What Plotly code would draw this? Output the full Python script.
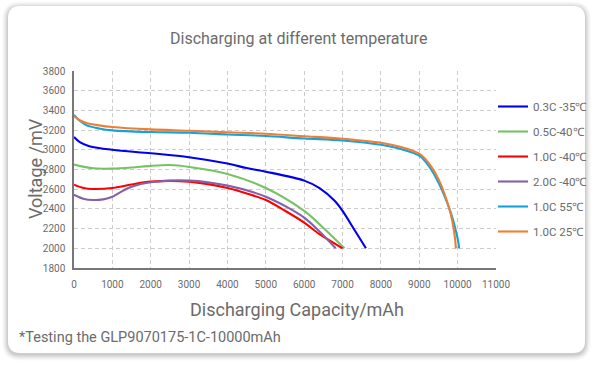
import plotly.graph_objects as go

# ---------------- data ----------------
series_names = ["0.3C -35℃", "0.5C-40℃", "1.0C -40℃", "2.0C -40℃", "1.0C 55℃", "1.0C 25℃"]
series_colors = ["#0000ee", "#78c266", "#ff0000", "#8560a8", "#14a2dc", "#ee7e33"]

cap_03c_m35 = [0, 150, 400, 1000, 2000, 3000, 4000, 4500, 5000, 6000, 6400, 6800, 7000, 7300, 7610]
volt_03c_m35 = [3130, 3078, 3037, 3000, 2965, 2925, 2860, 2815, 2778, 2687, 2612, 2480, 2380, 2194, 2000]

cap_05c_m40 = [0, 500, 1000, 1500, 2000, 2500, 3000, 4000, 5000, 6000, 6400, 7050]
volt_05c_m40 = [2850, 2812, 2809, 2820, 2837, 2845, 2826, 2755, 2612, 2380, 2245, 2000]

cap_10c_m40 = [0, 250, 500, 1000, 1500, 2000, 3000, 4000, 4500, 5000, 5500, 6000, 6400, 7000]
volt_10c_m40 = [2646, 2612, 2602, 2612, 2648, 2677, 2677, 2612, 2557, 2490, 2381, 2261, 2143, 2000]

cap_20c_m40 = [0, 240, 500, 760, 1000, 1280, 1500, 2000, 3000, 4000, 5000, 6000, 6400, 6820]
volt_20c_m40 = [2544, 2504, 2490, 2497, 2523, 2585, 2625, 2670, 2687, 2636, 2523, 2312, 2170, 2000]

cap_10c_55 = [0, 150, 330, 650, 1000, 2000, 3000, 4000, 5000, 6000, 7000, 8000, 8500, 9000, 9260, 9520, 9740, 9880, 9970, 10015, 10040]
volt_10c_55 = [3355, 3295, 3248, 3217, 3197, 3180, 3173, 3156, 3140, 3115, 3095, 3051, 3010, 2940, 2830, 2653, 2450, 2290, 2150, 2070, 2000]

cap_10c_25 = [0, 150, 330, 650, 1000, 2000, 3000, 4000, 5000, 6000, 7000, 8000, 8500, 9000, 9260, 9520, 9690, 9820, 9900, 9935, 9955]
volt_10c_25 = [3340, 3300, 3271, 3248, 3231, 3207, 3194, 3178, 3163, 3138, 3112, 3071, 3030, 2960, 2857, 2687, 2516, 2347, 2190, 2090, 2000]

x_ticks = list(range(0, 11001, 1000))
y_ticks = list(range(1800, 3801, 200))

caps = [cap_03c_m35, cap_05c_m40, cap_10c_m40, cap_20c_m40, cap_10c_55, cap_10c_25]
volts = [volt_03c_m35, volt_05c_m40, volt_10c_m40, volt_20c_m40, volt_10c_55, volt_10c_25]

# ---------------- layout geometry ----------------
FW, FH = 596, 366
L, R, T, B = 74, 496, 71, 268
PW, PH = R - L, B - T
FONT = "Roboto, 'Open Sans', sans-serif"
TXT = "#6b6b6b"


def px(X):
    return (X - L) / PW


def py(Y):
    return (B - Y) / PH


def rounded_rect(x0, y0, x1, y1, r):
    pts = [
        ("M", [(x0 + r, y0)]),
        ("L", [(x1 - r, y0)]),
        ("Q", [(x1, y0), (x1, y0 + r)]),
        ("L", [(x1, y1 - r)]),
        ("Q", [(x1, y1), (x1 - r, y1)]),
        ("L", [(x0 + r, y1)]),
        ("Q", [(x0, y1), (x0, y1 - r)]),
        ("L", [(x0, y0 + r)]),
        ("Q", [(x0, y0), (x0 + r, y0)]),
    ]
    s = ""
    for cmd, ps in pts:
        s += cmd + " " + " ".join(f"{px(a):.5f},{py(b):.5f}" for a, b in ps) + " "
    return s + "Z"


fig = go.Figure()

for name, color, xs, ys in zip(series_names, series_colors, caps, volts):
    fig.add_trace(go.Scatter(
        x=xs, y=ys, mode="lines", name=name,
        line=dict(color=color, width=2.1, shape="spline", smoothing=0.9),
        legendgroup=name,
    ))

shapes = []
# soft shadow
for e, a in [(6, 0.02), (5, 0.025), (4, 0.03), (3, 0.035), (2, 0.045), (1, 0.06)]:
    shapes.append(dict(type="path", xref="paper", yref="paper",
                       path=rounded_rect(8 - e, 6 - e + 1.5, 585 + e, 353 + e + 1.5, 12 + e),
                       fillcolor=f"rgba(0,0,0,{a})", line=dict(width=0), layer="below"))
shapes.append(dict(type="path", xref="paper", yref="paper",
                   path=rounded_rect(8, 6, 585, 353, 12),
                   fillcolor="white", line=dict(width=0), layer="below"))

annotations = [
    dict(text="Discharging at different temperature", x=px(298), y=py(38), xref="paper", yref="paper",
         showarrow=False, xanchor="center", yanchor="middle", font=dict(family=FONT, size=16, color=TXT)),
    dict(text="Discharging Capacity/mAh", x=px(297), y=py(309), xref="paper", yref="paper",
         showarrow=False, xanchor="center", yanchor="middle", font=dict(family=FONT, size=18, color=TXT)),
    dict(text="Voltage /mV", x=px(35), y=py(169), xref="paper", yref="paper", textangle=-90,
         showarrow=False, xanchor="center", yanchor="middle", font=dict(family=FONT, size=18, color=TXT)),
    dict(text="*Testing the GLP9070175-1C-10000mAh", x=px(17), y=py(337), xref="paper", yref="paper",
         showarrow=False, xanchor="left", yanchor="middle", font=dict(family=FONT, size=14.5, color=TXT)),
]

fig.update_layout(
    width=FW, height=FH,
    margin=dict(l=L, r=FW - R, t=T, b=FH - B, pad=0, autoexpand=False),
    paper_bgcolor="white", plot_bgcolor="rgba(0,0,0,0)",
    font=dict(family=FONT, color=TXT),
    showlegend=True,
    legend=dict(x=px(493), y=py(92), xanchor="left", yanchor="top", xref="paper", yref="paper",
                font=dict(family=FONT, size=11.5, color=TXT), tracegroupgap=6,
                bgcolor="rgba(0,0,0,0)", itemwidth=30),
    shapes=shapes,
    annotations=annotations,
)

fig.update_xaxes(range=[0, 11000], tickvals=x_ticks, ticktext=[str(v) for v in x_ticks],
                 showgrid=True, gridcolor="#cccccc", griddash="4px,3px", gridwidth=1,
                 showline=True, linecolor="#777777", linewidth=1.5, zeroline=False, automargin=False,
                 ticks="", tickfont=dict(family=FONT, size=10, color=TXT), ticklabelstandoff=6)
fig.update_yaxes(range=[1800, 3800], tickvals=y_ticks, ticktext=[str(v) for v in y_ticks],
                 showgrid=True, gridcolor="#cccccc", griddash="4px,3px", gridwidth=1,
                 showline=True, linecolor="#777777", linewidth=1.5, zeroline=False, automargin=False,
                 ticks="", tickfont=dict(family=FONT, size=10, color=TXT), ticklabelstandoff=5)

fig.write_html("out.html", config={"displayModeBar": False},
               post_script="document.body.style.margin='0';document.body.style.padding='0';")
